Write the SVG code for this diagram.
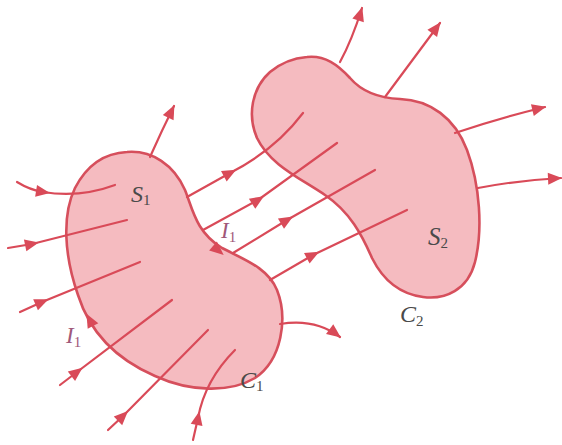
<svg xmlns="http://www.w3.org/2000/svg" width="562" height="445" viewBox="0 0 562 445">
<style>
.blob{fill:#f5bbc0;stroke:#d64f5c;stroke-width:2.6}
.ln{fill:none;stroke:#d94a58;stroke-width:2.2;stroke-linecap:round}
.mid{marker-mid:url(#am)}
.end{marker-end:url(#ae)}
.lbl{font-family:"Liberation Serif",serif;font-style:italic;fill:#4a4a4a}
.cur{font-family:"Liberation Serif",serif;font-style:italic;fill:#a0587a}
.sub{font-style:normal;font-size:15px}
.ah{fill:#d94a58}
</style>
<defs>
<marker id="am" markerUnits="userSpaceOnUse" markerWidth="14" markerHeight="12" refX="7" refY="6" orient="auto" overflow="visible">
<path d="M0,0 L14,6 L0,12 z" fill="#d94a58"/>
</marker>
<marker id="ae" markerUnits="userSpaceOnUse" markerWidth="14" markerHeight="12" refX="13" refY="6" orient="auto" overflow="visible">
<path d="M0,0 L14,6 L0,12 z" fill="#d94a58"/>
</marker>
</defs>
<g id="S1">
<path class="blob" d="M127,152 C152,150 174,165 185,190 C193,210 196,232 222,248 C245,260 268,268 277,290 C288,318 282,360 255,378 C230,393 190,392 155,376 C118,360 90,333 78,295 C64,255 62,215 75,188 C87,165 105,153 127,152 Z"/>
<polygon class="ah" points="0,-6 14,0 0,6" transform="translate(213,246) rotate(40)"/>
<polygon class="ah" points="0,-6 14,0 0,6" transform="translate(93,326) rotate(-118)"/>
</g>
<g id="S2">
<path class="blob" d="M307,57 C325,55 338,65 350,78 C362,92 378,98 400,99 C430,100 455,118 467,150 C480,185 483,230 475,262 C468,290 445,300 423,297 C400,294 383,280 372,258 C362,235 350,212 325,195 C300,178 270,165 257,138 C247,115 252,88 270,72 C282,62 294,58 307,57 Z"/>
</g>
<g id="connectors">
<path class="ln mid" d="M17,182 Q30,190 43,192 Q80,198 115,185"/>
<path class="ln mid" d="M8,248 L32,244 L127,220"/>
<path class="ln mid" d="M20,312 L42,302 L140,262"/>
<path class="ln mid" d="M60,385 L77,372 L172,300"/>
<path class="ln mid" d="M108,430 L123,416 L208,330"/>
<path class="ln mid" d="M193,440 L198,418 Q205,380 235,350"/>
<path class="ln mid" d="M187,197 L230,173 Q275,150 303,113"/>
<path class="ln mid" d="M203,230 L258,200 L337,143"/>
<path class="ln mid" d="M233,253 L287,220 L375,170"/>
<path class="ln mid" d="M270,280 L313,255 L407,210"/>
<path class="ln end" d="M150,157 Q162,130 174,106"/>
<path class="ln end" d="M280,324 Q315,318 340,337"/>
<path class="ln end" d="M340,62 Q352,40 362,8"/>
<path class="ln end" d="M385,97 L440,23"/>
<path class="ln end" d="M455,133 Q500,118 545,107"/>
<path class="ln end" d="M478,188 Q520,180 561,178"/>
</g>
<g id="labels">
<text class="lbl" x="131" y="202" font-size="24">S<tspan class="sub" dy="3">1</tspan></text>
<text class="lbl" x="428" y="245" font-size="25">S<tspan class="sub" dy="3">2</tspan></text>
<text class="lbl" x="240" y="388" font-size="24">C<tspan class="sub" dy="3">1</tspan></text>
<text class="lbl" x="400" y="322" font-size="24">C<tspan class="sub" dy="4">2</tspan></text>
<text class="cur" x="221" y="238" font-size="23">I<tspan class="sub" dy="4">1</tspan></text>
<text class="cur" x="66" y="343" font-size="23">I<tspan class="sub" dy="4">1</tspan></text>
</g>
</svg>
